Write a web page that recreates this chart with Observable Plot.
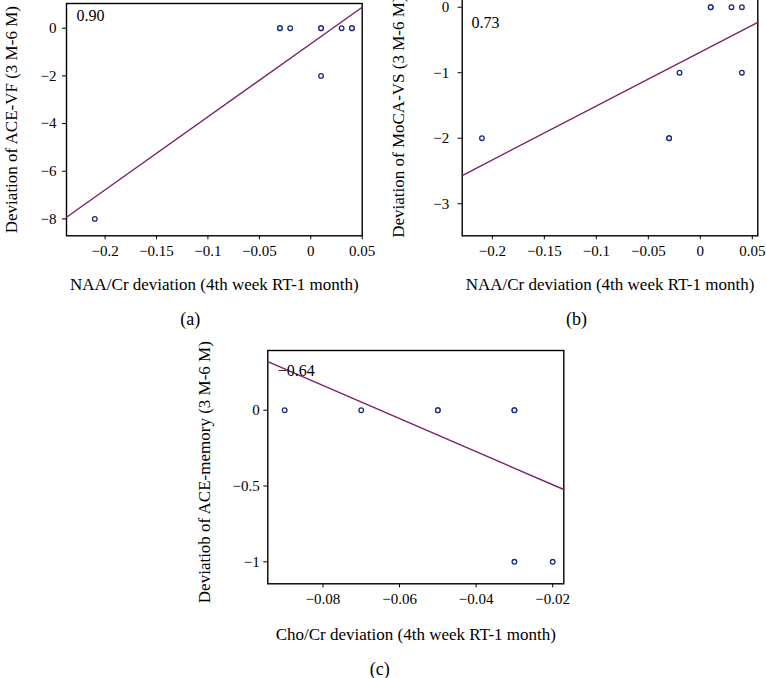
<!DOCTYPE html>
<html><head><meta charset="utf-8">
<script src="https://cdn.jsdelivr.net/npm/d3@7"></script>
<script src="https://cdn.jsdelivr.net/npm/@observablehq/plot@0.6"></script>
<style>
html,body{margin:0;padding:0;background:#fff;}
#chart{position:relative;width:766px;height:678px;overflow:hidden;background:#fff;}
#chart > svg{position:absolute;left:0;}
</style></head><body><div id="chart"></div>
<script>
// ---- Panel (a): NAA/Cr deviation vs ACE-VF deviation
const aX = [-0.21, -0.03, -0.03, -0.02, 0.01, 0.01, 0.01, 0.03, 0.04, 0.04];
const aY = [-8, 0, 0, 0, 0, 0, -2, 0, 0, 0];
const aFitX = [-0.2375, 0.05];
const aFitY = [-7.93, 0.88];
const aXTicks = [-0.2, -0.15, -0.1, -0.05, 0, 0.05];
const aYTicks = [-8, -6, -4, -2, 0];
const aR = "0.90";

// ---- Panel (b): NAA/Cr deviation vs MoCA-VS deviation
const bX = [-0.21, -0.03, -0.03, -0.02, 0.01, 0.01, 0.03, 0.04, 0.04];
const bY = [-2, -2, -2, -1, 0, 0, 0, 0, -1];
const bFitX = [-0.229, 0.0553];
const bFitY = [-2.57, -0.23];
const bXTicks = [-0.2, -0.15, -0.1, -0.05, 0, 0.05];
const bYTicks = [-3, -2, -1, 0];
const bR = "0.73";

// ---- Panel (c): Cho/Cr deviation vs ACE-memory deviation
const cX = [-0.09, -0.07, -0.05, -0.05, -0.03, -0.03, -0.03, -0.02];
const cY = [0, 0, 0, 0, 0, 0, -1, -1];
const cFitX = [-0.0944, -0.0171];
const cFitY = [0.321, -0.523];
const cXTicks = [-0.08, -0.06, -0.04, -0.02];
const cYTicks = [-1, -0.5, 0];
const cR = "\u22120.64";

const titlesX = ["NAA/Cr deviation (4th week RT-1 month)", "NAA/Cr deviation (4th week RT-1 month)", "Cho/Cr deviation (4th week RT-1 month)"];
const titlesY = ["Deviation of ACE-VF (3 M-6 M)", "Deviation of MoCA-VS (3 M-6 M)", "Deviatiob of ACE-memory (3 M-6 M)"];
const captions = ["(a)", "(b)", "(c)"];

const dotColor = "#1c2a7c";
const lineColor = "#7a2266";
const fmt = d3.format("");
const zip = (xs, ys) => xs.map((x, i) => ({x, y: ys[i]}));

function panel(c) {
  const svg = Plot.plot({
    width: 766, height: c.height,
    marginLeft: c.ml, marginRight: c.mr, marginTop: c.mt, marginBottom: c.mb,
    x: {domain: c.xDomain, ticks: c.xTicks, tickFormat: fmt, tickSize: 4, tickPadding: 6, label: null},
    y: {domain: c.yDomain, ticks: c.yTicks, tickFormat: fmt, tickSize: 4, tickPadding: c.yPad, label: null},
    style: {fontFamily: "'Liberation Serif', 'DejaVu Serif', serif", fontSize: "15px", color: "#000", background: "transparent", overflow: "visible"},
    marks: [
      Plot.frame({stroke: "#000", strokeWidth: 1.4}),
      Plot.line(zip(c.fitX, c.fitY), {x: "x", y: "y", stroke: lineColor, strokeWidth: 1.4}),
      Plot.dot(zip(c.px, c.py), {x: "x", y: "y", r: 2.3, stroke: dotColor, strokeWidth: 1.3, fill: "white"}),
      Plot.text([c.r], {text: d => d, frameAnchor: "top-left", textAnchor: "start", lineAnchor: "bottom", dx: c.rDx, dy: c.rDy, fontSize: 16}),
      Plot.text([c.xTitle], {text: d => d, frameAnchor: "bottom", textAnchor: "middle", lineAnchor: "bottom", dy: c.xTitleDy, fontSize: 17}),
      Plot.text([c.yTitle], {text: d => d, frameAnchor: "left", textAnchor: "middle", rotate: -90, lineAnchor: "bottom", dx: c.yTitleDx, dy: c.yTitleDy, fontSize: 17}),
      Plot.text([c.caption], {text: d => d, frameAnchor: "bottom", textAnchor: "middle", lineAnchor: "bottom", dx: c.capDx, dy: c.capDy, fontSize: 18})
    ]
  });
  svg.style.top = c.top + "px";
  return svg;
}

const chart = document.getElementById("chart");
chart.appendChild(panel({
  height: 678, top: 0, ml: 66, mr: 404.3, mt: 3, mb: 442.7,
  xDomain: [-0.2375, 0.05], yDomain: [-8.71, 1.037], xTicks: aXTicks, yTicks: aYTicks, yPad: 6,
  px: aX, py: aY, fitX: aFitX, fitY: aFitY, r: aR, rDx: 10, rDy: 17.7,
  xTitle: titlesX[0], xTitleDy: 54, yTitle: titlesY[0], yTitleDx: -50, yTitleDy: 0,
  caption: captions[0], capDx: -24, capDy: 89
}));
chart.appendChild(panel({
  height: 681, top: -3, ml: 461.7, mr: 8.7, mt: 1, mb: 442.7,
  xDomain: [-0.229, 0.0553], yDomain: [-3.49, 0.133], xTicks: bXTicks, yTicks: bYTicks, yPad: 9,
  px: bX, py: bY, fitX: bFitX, fitY: bFitY, r: bR, rDx: 9.3, rDy: 29.3,
  xTitle: titlesX[1], xTitleDy: 54, yTitle: titlesY[1], yTitleDx: -58.7, yTitleDy: 0,
  caption: captions[1], capDx: -33.5, capDy: 89
}));
chart.appendChild(panel({
  height: 678, top: 0, ml: 267.3, mr: 202.7, mt: 350, mb: 94.7,
  xDomain: [-0.0944, -0.0171], yDomain: [-1.145, 0.394], xTicks: cXTicks, yTicks: cYTicks, yPad: 4,
  px: cX, py: cY, fitX: cFitX, fitY: cFitY, r: cR, rDx: 10, rDy: 25,
  xTitle: titlesX[2], xTitleDy: 56, yTitle: titlesY[2], yTitleDx: -58, yTitleDy: 5,
  caption: captions[2], capDx: -36, capDy: 91
}));
</script>
</body></html>
